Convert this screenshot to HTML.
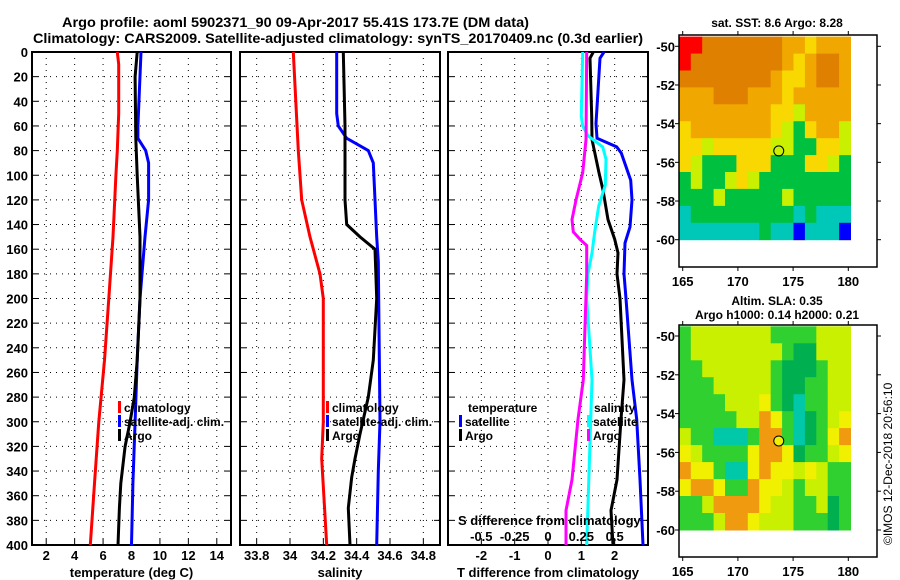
<!DOCTYPE html>
<html><head><meta charset="utf-8">
<style>
html,body{margin:0;padding:0;background:#fff;}
svg{display:block;font-family:"Liberation Sans",Arial,sans-serif;font-weight:bold;}
</style></head>
<body>
<svg id="c" width="900" height="580" viewBox="0 0 900 580">
<text x="62" y="27" font-size="14" textLength="467" lengthAdjust="spacingAndGlyphs">Argo profile: aoml 5902371_90 09-Apr-2017 55.41S 173.7E (DM data)</text>
<text x="33" y="43" font-size="14" textLength="610" lengthAdjust="spacingAndGlyphs">Climatology: CARS2009. Satellite-adjusted climatology: synTS_20170409.nc (0.3d earlier)</text>
<text x="777" y="27" font-size="12" text-anchor="middle">sat. SST: 8.6 Argo: 8.28</text>
<text x="777" y="305" font-size="12" text-anchor="middle">Altim. SLA: 0.35</text>
<text x="777" y="319" font-size="12" text-anchor="middle">Argo h1000: 0.14 h2000: 0.21</text>
<text transform="translate(892,545) rotate(-90)" font-size="12" font-weight="normal">©IMOS 12-Dec-2018 20:56:10</text>
</svg>
<script>
// ---- data ----
const depthTicks=[0,20,40,60,80,100,120,140,160,180,200,220,240,260,280,300,320,340,360,380,400];
const tempTicks=[2,4,6,8,10,12,14];
const salTicks=[33.8,34,34.2,34.4,34.6,34.8];
const tdiffTicks=[-2,-1,0,1,2];
const sdiffTicks=[-0.5,-0.25,0,0.25,0.5];
const sdiffTickLabels=["-0.5","-0.25","0","0.25","0.5"];

const climTdepth=[0,10,50,80,100,150,200,250,300,350,400];
const climT=[7.0,7.1,7.1,7.0,6.9,6.7,6.4,6.1,5.7,5.4,5.1];
const satTdepth=[0,60,70,80,90,120,150,200,250,300,350,400];
const satT=[8.67,8.45,8.45,9.0,9.2,9.2,8.95,8.6,8.4,8.25,8.1,8.0];
const argoTdepth=[0,20,70,100,150,200,250,280,300,320,350,370,400];
const argoT=[8.4,8.25,8.3,8.4,8.6,8.6,8.4,8.2,7.9,7.55,7.25,7.15,7.05];

const climSdepth=[0,80,120,150,180,200,300,330,400];
const climS=[34.02,34.05,34.07,34.12,34.18,34.2,34.2,34.19,34.22];
const satSdepth=[0,50,60,70,80,90,150,170,300,340,400];
const satS=[34.28,34.28,34.29,34.34,34.47,34.5,34.52,34.53,34.54,34.53,34.52];
const argoSdepth=[0,60,70,120,140,150,160,200,250,280,310,330,345,370,400];
const argoS=[34.32,34.33,34.33,34.33,34.34,34.42,34.51,34.52,34.5,34.47,34.42,34.39,34.37,34.35,34.36];

const satTdDepth=[0,5,58,70,77,82,104,120,142,155,180,200,266,298,347,400];
const satTd=[1.68,1.56,1.44,1.47,2.06,2.2,2.48,2.52,2.46,2.31,2.28,2.34,2.52,2.66,2.76,2.85];
const argoTdDepth=[0,5,52,71,98,112,136,152,163,180,200,266,298,347,372,400];
const argoTd=[1.36,1.26,1.31,1.32,1.53,1.65,1.8,2.0,2.1,2.07,2.16,2.28,2.19,2.07,1.89,1.95];
const satSdDepth=[0,52,60,68,77,87,108,125,146,163,180,200,266,400];
const satSd=[0.26,0.25,0.26,0.30,0.41,0.435,0.43,0.38,0.35,0.33,0.30,0.29,0.33,0.29];
const argoSdDepth=[0,71,98,120,136,146,152,157,180,266,298,347,372,400];
const argoSd=[0.29,0.285,0.26,0.21,0.18,0.19,0.24,0.29,0.29,0.265,0.225,0.18,0.135,0.135];

const lonTicks=[165,170,175,180];
const latTicks=[-50,-52,-54,-56,-58,-60];
const argoLon=173.7, argoLat=-55.41;
const sstGrid=[
"RRDDDDDDDOOYOOO","RDDDDDDDDOYODDO","DDDDDDDDOYYODDO","OOODDDOOOYOOOOO",
"OOOOOOOOYYLOOOO","YOOOOOOOYLGYOOL","YYLYYYYYLLGGYYL","YLGGGYYYGGGYYLG",
"GLGGLYLGGGGGGGG","GGGLGGGGGLGGGGG","TGGGGGGGGGTGTTT","TTTTTTTGTTBTTTB"];
const slaGrid=[
"GLLLLLLLGGGGLLL","GLLLLLLLLGDDLLL","GGLLLLLLGDDDGLL","GGGLLLLLGDDGGLL",
"GGGGLLLYGDTGGLL","GGGGGLLOYGTDGLY","LGGTTTGOOGTDGYO","YLGGGGYOOYDGGLY",
"OYYGTTYOYYLYLGG","YOOYGGOYYLGLLGG","GGLOOOOYLLGGLDG","GGGLOOYLLLGGGDG"];

// ---- helpers ----
const NS="http://www.w3.org/2000/svg";
const svg=document.getElementById('c');
function mk(tag,attrs,parent){const e=document.createElementNS(NS,tag);for(const k in attrs)e.setAttribute(k,attrs[k]);(parent||svg).appendChild(e);return e;}
const Y0=52,Y1=545;
const yD=d=>Y0+d/400*(Y1-Y0);

function panel(name,x0,x1,vmin,vmax,ticks,labels,xlabel,gridTicks){
  const g=mk('g',{});
  
  
  const sx=v=>x0+(v-vmin)/(vmax-vmin)*(x1-x0);
  depthTicks.forEach(d=>{if(d>0&&d<400){
    const l=mk('line',{x1:x0,x2:x1,y1:yD(d),y2:yD(d),stroke:'#000','stroke-width':1,'stroke-dasharray':'1,5'},g);
    
    
    mk('line',{x1:x0,x2:x0+6,y1:yD(d),y2:yD(d),stroke:'#000'},g);
    mk('line',{x1:x1-6,x2:x1,y1:yD(d),y2:yD(d),stroke:'#000'},g);
  }});
  (gridTicks||ticks).forEach(v=>{
    const l=mk('line',{x1:sx(v),x2:sx(v),y1:Y0,y2:Y1,stroke:'#000','stroke-width':1,'stroke-dasharray':'1,5'},g);
    
    
  });
  ticks.forEach((v,i)=>{
    mk('line',{x1:sx(v),x2:sx(v),y1:Y1-6,y2:Y1,stroke:'#000'},g);
    const t=mk('text',{x:sx(v),y:Y1+15,'font-size':13,'text-anchor':'middle'},g);
    t.textContent=labels[i];
    
    
  });
  const xl=mk('text',{x:(x0+x1)/2,y:577,'font-size':13,'text-anchor':'middle'},g);
  xl.textContent=xlabel;
  
  
  const fr=mk('rect',{x:x0,y:Y0,width:x1-x0,height:Y1-Y0,fill:'none',stroke:'#000','stroke-width':2},g);
  
  
  return {g,sx};
}
function profile(p,sx,depths,vals,color,name){
  let d='';
  depths.forEach((dep,i)=>{d+=(i?'L':'M')+sx(vals[i]).toFixed(1)+','+yD(dep).toFixed(1);});
  const l=mk('path',{d:d,fill:'none',stroke:color,'stroke-width':3},p);
  
  
}
function legend(p,x,y,color,label){
  if(color){const b=mk('rect',{x:x,y:y-11,width:3,height:12,fill:color},p);
    
    }
  const t=mk('text',{x:x+6,y:y,'font-size':12},p);
  t.textContent=label;
  
  
}

// depth labels
depthTicks.forEach(d=>{
  const t=mk('text',{x:28,y:yD(d)+5,'font-size':13,'text-anchor':'end'});
  t.textContent=d;
  
  
});

// panel 1
const p1=panel('temperature-panel',32,231,1,15,tempTicks,tempTicks.map(String),'temperature (deg C)');
profile(p1.g,p1.sx,climTdepth,climT,'#f00','climatology-temperature-line');
profile(p1.g,p1.sx,satTdepth,satT,'#00f','satellite-temperature-line');
profile(p1.g,p1.sx,argoTdepth,argoT,'#000','argo-temperature-line');
legend(p1.g,118,412,'#f00','climatology');
legend(p1.g,118,426,'#00f','satellite-adj. clim.');
legend(p1.g,118,440,'#000','Argo');

// panel 2
const p2=panel('salinity-panel',240,440,33.7,34.9,salTicks,salTicks.map(String),'salinity');
profile(p2.g,p2.sx,climSdepth,climS,'#f00','climatology-salinity-line');
profile(p2.g,p2.sx,satSdepth,satS,'#00f','satellite-salinity-line');
profile(p2.g,p2.sx,argoSdepth,argoS,'#000','argo-salinity-line');
legend(p2.g,326,412,'#f00','climatology');
legend(p2.g,326,426,'#00f','satellite-adj. clim.');
legend(p2.g,326,440,'#000','Argo');

// panel 3
const p3=panel('difference-panel',448,648,-3,3,tdiffTicks,tdiffTicks.map(String),'T difference from climatology');
const sxS=v=>448+(v+0.75)/1.5*200;
profile(p3.g,p3.sx,satTdDepth,satTd,'#00f','satellite-tdiff-line');
profile(p3.g,p3.sx,argoTdDepth,argoTd,'#000','argo-tdiff-line');
profile(p3.g,sxS,satSdDepth,satSd,'#0ff','satellite-sdiff-line');
profile(p3.g,sxS,argoSdDepth,argoSd,'#f0f','argo-sdiff-line');
legend(p3.g,462,412,null,'temperature');
legend(p3.g,459,426,'#00f','satellite');
legend(p3.g,459,440,'#000','Argo');
legend(p3.g,588,412,null,'salinity');
legend(p3.g,587,426,'#0ff','satellite');
legend(p3.g,587,440,'#f0f','Argo');
{const t=mk('text',{x:458,y:525,'font-size':13},p3.g);t.textContent='S difference from climatology';
 
 }
sdiffTicks.forEach((v,i)=>{const t=mk('text',{x:sxS(v),y:541,'font-size':13,'text-anchor':'middle'},p3.g);
 t.textContent=sdiffTickLabels[i];
 
 });

// maps
const sstCol={R:'#ff0000',D:'#e08000',O:'#f0a800',Y:'#f8d800',L:'#c8f000',G:'#00c040',T:'#00c8b8',B:'#0000ff'};
const slaCol={G:'#30d030',L:'#c8f000',D:'#00b050',T:'#00c8a8',Y:'#f0f000',O:'#f09a10'};
function map(name,fy0,fy1,yLatA,yLatB,grid,cols){
  const g=mk('g',{});
  
  
  const fx0=679,fx1=877;
  const sx=lon=>682.7+(lon-165)/15*(848.3-682.7);
  const sy=lat=>yLatA+(lat+50)/(-10)*(yLatB-yLatA);
  const lonA=164.7,lonB=180.2,latA=-49.5,latB=-60;
  const nr=grid.length,nc=grid[0].length;
  grid.forEach((row,r)=>{for(let c=0;c<nc;c++){
    const xa=sx(lonA+(lonB-lonA)*c/nc),xb=sx(lonA+(lonB-lonA)*(c+1)/nc);
    const ya=sy(latA+(latB-latA)*r/nr),yb=sy(latA+(latB-latA)*(r+1)/nr);
    const cell=mk('rect',{x:xa.toFixed(1),y:Math.max(ya,fy0).toFixed(1),width:(xb-xa+0.5).toFixed(1),height:(yb-Math.max(ya,fy0)+0.5).toFixed(1),fill:cols[row[c]]},g);
    
    
  }});
  const ci=mk('circle',{cx:sx(argoLon),cy:sy(argoLat),r:5,fill:cols===slaCol?'#f0f000':'none',stroke:'#000','stroke-width':1},g);
  
  
  const fr=mk('rect',{x:fx0,y:fy0,width:fx1-fx0,height:fy1-fy0,fill:'none',stroke:'#000','stroke-width':1.5},g);
  
  
  latTicks.forEach(lat=>{
    mk('line',{x1:fx0-4,x2:fx0,y1:sy(lat),y2:sy(lat),stroke:'#000'},g);
    mk('line',{x1:fx1,x2:fx1+4,y1:sy(lat),y2:sy(lat),stroke:'#000'},g);
    const t=mk('text',{x:675,y:sy(lat)+5,'font-size':13,'text-anchor':'end'},g);
    t.textContent=lat;
    
    
  });
  lonTicks.forEach(lon=>{
    mk('line',{x1:sx(lon),x2:sx(lon),y1:fy0-4,y2:fy0,stroke:'#000'},g);
    mk('line',{x1:sx(lon),x2:sx(lon),y1:fy1,y2:fy1+4,stroke:'#000'},g);
    const t=mk('text',{x:sx(lon),y:fy1+19,'font-size':13,'text-anchor':'middle'},g);
    t.textContent=lon;
    
    
  });
}
map('sst-map',35,267,46.3,239.7,sstGrid,sstCol);
map('sla-map',325,557,336,530,slaGrid,slaCol);
</script>
</body></html>
